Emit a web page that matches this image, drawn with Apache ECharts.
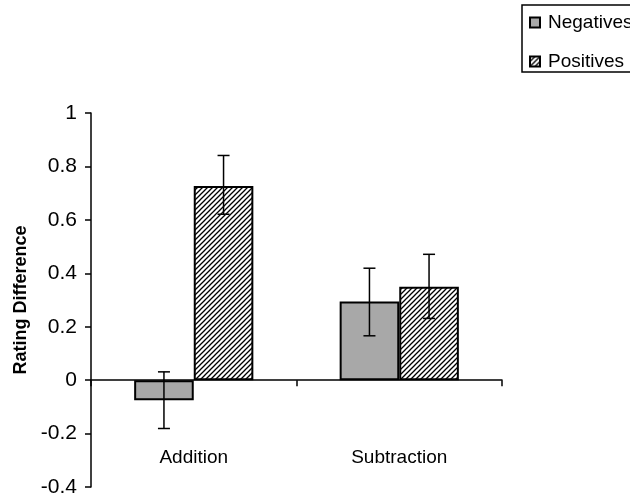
<!DOCTYPE html>
<html>
<head>
<meta charset="utf-8">
<script src="https://cdn.jsdelivr.net/npm/echarts@6/dist/echarts.min.js"></script>
<style>
  html, body { margin: 0; padding: 0; background: #fff; }
  #chart { width: 630px; height: 501px; }
</style>
</head>
<body>
<div id="chart"></div>
<script>
var categories = ['Addition', 'Subtraction'];
var negatives = [-0.075, 0.294];
var negErrLow = [-0.181, 0.166];
var negErrHigh = [0.031, 0.419];
var positives = [0.727, 0.35];
var posErrLow = [0.621, 0.231];
var posErrHigh = [0.841, 0.471];
var yTicks = [-0.4, -0.2, 0, 0.2, 0.4, 0.6, 0.8, 1];

// diagonal hatch for the Positives bars
function hatch() {
  var c = document.createElement('canvas');
  c.width = 5; c.height = 5;
  var ctx = c.getContext('2d');
  ctx.fillStyle = '#fff';
  ctx.fillRect(0, 0, 5, 5);
  ctx.strokeStyle = '#000';
  ctx.lineWidth = 1.3;
  ctx.beginPath();
  ctx.moveTo(-1, 6); ctx.lineTo(6, -1);
  ctx.moveTo(-1, 1); ctx.lineTo(1, -1);
  ctx.moveTo(4, 6); ctx.lineTo(6, 4);
  ctx.stroke();
  return c;
}

var barFrac = 0.29;

function errBars(low, high, side) {
  return {
    type: 'custom',
    silent: true,
    z: 10,
    data: categories.map(function (c, i) { return [i, low[i], high[i]]; }),
    renderItem: function (params, api) {
      var band = api.size([1, 0])[0];
      var off = side * band * barFrac / 2;
      var lo = api.coord([api.value(0), api.value(1)]);
      var hi = api.coord([api.value(0), api.value(2)]);
      var x = lo[0] + off;
      var cap = 6;
      var st = { stroke: '#000', lineWidth: 1.5 };
      return {
        type: 'group',
        children: [
          { type: 'line', shape: { x1: x, y1: lo[1], x2: x, y2: hi[1] }, style: st },
          { type: 'line', shape: { x1: x - cap, y1: lo[1], x2: x + cap, y2: lo[1] }, style: st },
          { type: 'line', shape: { x1: x - cap, y1: hi[1], x2: x + cap, y2: hi[1] }, style: st }
        ]
      };
    }
  };
}

var font = 'Liberation Sans, Arial, sans-serif';
var chart = echarts.init(document.getElementById('chart'));
chart.setOption({
  animation: false,
  textStyle: { fontFamily: font },
  grid: { left: 91, right: 128, top: 113, bottom: 14, containLabel: false, outerBoundsMode: 'none' },
  legend: {
    orient: 'vertical',
    left: 522,
    top: 5,
    padding: [8, 20, 1, 7],
    itemGap: 20,
    itemWidth: 10,
    itemHeight: 10,
    borderColor: '#000',
    borderWidth: 1.5,
    borderRadius: 0,
    icon: 'rect',
    textStyle: { fontSize: 19, color: '#000', fontFamily: font, padding: [0, 0, 0, 3] },
    data: ['Negatives', 'Positives']
  },
  xAxis: [
    {
      type: 'category',
      data: categories,
      axisLine: { onZero: true, lineStyle: { color: '#000', width: 1.5 } },
      axisTick: { show: true, length: 6, lineStyle: { color: '#000', width: 1.5 } },
      axisLabel: { show: false }
    },
    {
      // category names sit low, near the bottom of the plot
      type: 'category',
      data: categories,
      position: 'bottom',
      axisLine: { show: false, onZero: false },
      axisTick: { show: false },
      axisLabel: { inside: true, interval: 0, margin: 20, fontSize: 19, color: '#000' }
    }
  ],
  yAxis: {
    type: 'value',
    min: yTicks[0],
    max: yTicks[yTicks.length - 1],
    interval: 0.2,
    name: 'Rating Difference',
    nameLocation: 'middle',
    nameGap: 55,
    nameTextStyle: { fontSize: 18, fontWeight: 'bold', color: '#000' },
    splitLine: { show: false },
    axisLine: { show: true, lineStyle: { color: '#000', width: 1.5 } },
    axisTick: { show: true, length: 6, lineStyle: { color: '#000', width: 1.5 } },
    axisLabel: {
      fontSize: 21, color: '#000', margin: 14,
      formatter: function (v) { return String(+v.toFixed(1)); }
    }
  },
  series: [
    {
      name: 'Negatives',
      type: 'bar',
      data: negatives,
      barWidth: (barFrac * 100) + '%',
      barGap: '0%',
      itemStyle: { color: '#a8a8a8', borderColor: '#000', borderWidth: 2 }
    },
    {
      name: 'Positives',
      type: 'bar',
      data: positives,
      barWidth: (barFrac * 100) + '%',
      barGap: '0%',
      itemStyle: { color: { image: hatch(), repeat: 'repeat' }, borderColor: '#000', borderWidth: 2 }
    },
    errBars(negErrLow, negErrHigh, -1),
    errBars(posErrLow, posErrHigh, 1)
  ]
});
</script>
</body>
</html>
